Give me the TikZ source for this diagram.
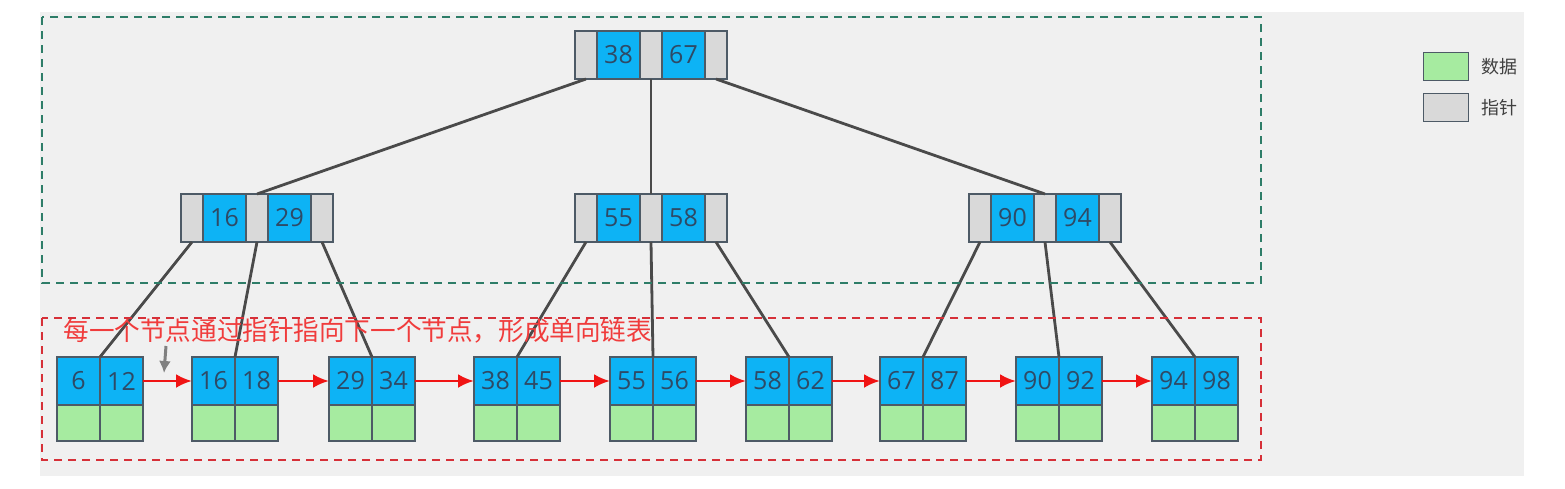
\documentclass[tikz,border=0pt]{standalone}
\usepackage{fontspec}
\newfontfamily\numfont{Open Sans}
\newfontfamily\cjk{Noto Sans CJK SC}
\usepackage{xcolor}
\usetikzlibrary{arrows.meta,positioning}

\definecolor{keyblue}{HTML}{0DB3F5}
\definecolor{ptrgray}{HTML}{D9D9D9}
\definecolor{datagreen}{HTML}{A6EBA0}
\definecolor{cellborder}{HTML}{4D5A66}
\definecolor{numtext}{HTML}{2E4A66}
\definecolor{linegray}{HTML}{4A4A4A}
\definecolor{linkred}{HTML}{F01414}
\definecolor{notered}{HTML}{F03C3C}
\definecolor{treegreen}{HTML}{2E7D68}
\definecolor{leafred}{HTML}{D63038}
\definecolor{canvas}{HTML}{F0F0F0}

\begin{document}
\begin{tikzpicture}[
  x=0.5pt, y=-0.5pt,
  ptr/.style={draw=cellborder, line width=0.6pt, fill=ptrgray, minimum width=11pt, minimum height=24pt, inner sep=0pt, outer sep=0pt},
  key/.style={draw=cellborder, line width=0.6pt, fill=keyblue, minimum width=21.5pt, minimum height=24pt, inner sep=0pt, outer sep=0pt, text=numtext, font=\numfont\fontsize{12.5}{14}\selectfont},
  data/.style={draw=cellborder, line width=0.6pt, fill=datagreen, minimum width=21.5pt, minimum height=18pt, inner sep=0pt, outer sep=0pt},
  tree/.style={line width=1.4pt, linegray},
  link/.style={-{Latex[length=8pt,width=7pt]}, line width=1.4pt, linkred},
  hint/.style={-{Latex[length=6pt,width=6pt]}, line width=1.5pt, gray},
  boundary/.style={dashed, line width=1pt, dash pattern=on 4pt off 3pt},
  legendbox/.style={draw=cellborder, line width=0.6pt, minimum width=22.5pt, minimum height=14pt, inner sep=0pt},
  legendtext/.style={font=\cjk\fontsize{9}{11}\selectfont, text=black!75, inner sep=0pt}
]
\useasboundingbox (0,0) rectangle (1565,488);
\fill[canvas] (40,12) rectangle (1524,476);

% root
\node[ptr, anchor=west] (r-p0) at (575,55) {};
\node[key, right=0pt of r-p0] (r-k1) {38};
\node[ptr, right=0pt of r-k1] (r-p1) {};
\node[key, right=0pt of r-p1] (r-k2) {67};
\node[ptr, right=0pt of r-k2] (r-p2) {};

% second level
\foreach \m/\mx/\a/\b in {1/181/16/29, 2/575/55/58, 3/969/90/94} {
  \node[ptr, anchor=west] (m\m-p0) at (\mx,218) {};
  \node[key, right=0pt of m\m-p0] (m\m-k1) {\a};
  \node[ptr, right=0pt of m\m-k1] (m\m-p1) {};
  \node[key, right=0pt of m\m-p1] (m\m-k2) {\b};
  \node[ptr, right=0pt of m\m-k2] (m\m-p2) {};
}

% leaves
\foreach \i/\lx/\a/\b in {1/57/6/12, 2/192/16/18, 3/329/29/34, 4/474/38/45, 5/610/55/56, 6/746/58/62, 7/880/67/87, 8/1016/90/92, 9/1152/94/98} {
  \node[key, anchor=north west] (l\i-k1) at (\lx,357) {\a};
  \node[key, right=0pt of l\i-k1] (l\i-k2) {\b};
  \node[data, below=0pt of l\i-k1] (l\i-d1) {};
  \node[data, below=0pt of l\i-k2] (l\i-d2) {};
}

\draw[tree] (r-p0.south) -- (m1-p1.north);
\draw[tree] (r-p1.south) -- (m2-p1.north);
\draw[tree] (r-p2.south) -- (m3-p1.north);

\draw[tree] (m1-p0.south) -- (l1-k1.north east);
\draw[tree] (m1-p1.south) -- (l2-k1.north east);
\draw[tree] (m1-p2.south) -- (l3-k1.north east);
\draw[tree] (m2-p0.south) -- (l4-k1.north east);
\draw[tree] (m2-p1.south) -- (l5-k1.north east);
\draw[tree] (m2-p2.south) -- (l6-k1.north east);
\draw[tree] (m3-p0.south) -- (l7-k1.north east);
\draw[tree] (m3-p1.south) -- (l8-k1.north east);
\draw[tree] (m3-p2.south) -- (l9-k1.north east);

\foreach \i [evaluate=\i as \j using int(\i+1)] in {1,...,8}
  \draw[link] (l\i-k2.east) -- (l\j-k1.west);

\node[font=\cjk\fontsize{12.8}{15}\selectfont, text=notered, anchor=west, inner sep=0pt] (note) at (63,331)
  {每一个节点通过指针指向下一个节点，形成单向链表};
\coordinate (hint-top) at (166,346);
\coordinate (hint-tip) at (164,373);
\draw[hint] (hint-top) -- (hint-tip);

\draw[boundary, treegreen] (42,17) rectangle (1261,283);
\draw[boundary, leafred] (42,318) rectangle (1261,460);

% legend
\node[legendbox, fill=datagreen, anchor=north west] (leg-data) at (1423,52) {};
\node[legendtext, anchor=west] (leg-data-text) at ([xshift=6pt]leg-data.east) {数据};
\node[legendbox, fill=ptrgray, anchor=north west] (leg-ptr) at (1423,93) {};
\node[legendtext, anchor=west] (leg-ptr-text) at ([xshift=6pt]leg-ptr.east) {指针};
\end{tikzpicture}
\end{document}
